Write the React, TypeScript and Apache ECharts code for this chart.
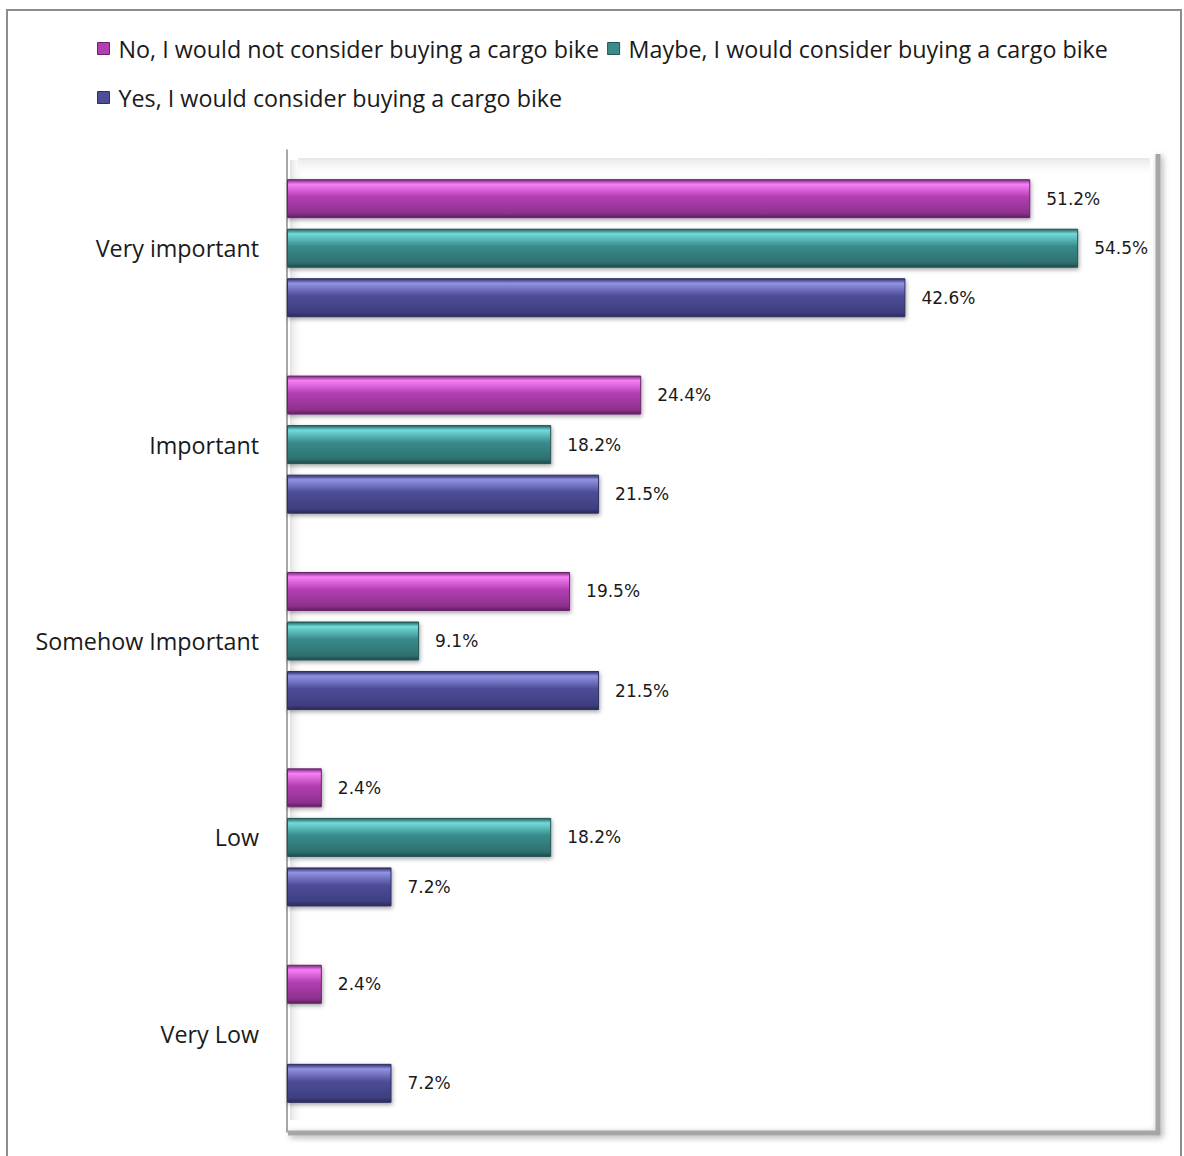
import React, { useEffect, useRef } from "react";
import * as echarts from "echarts";

const categories = ["Very important", "Important", "Somehow Important", "Low", "Very Low"];
const seriesNames = [
  "No, I would not consider buying a cargo bike",
  "Maybe, I would consider buying a cargo bike",
  "Yes, I would consider buying a cargo bike",
];
const noValues = [51.2, 24.4, 19.5, 2.4, 2.4];
const maybeValues: (number | string)[] = [54.5, 18.2, 9.1, 18.2, "-"];
const yesValues = [42.6, 21.5, 21.5, 7.2, 7.2];

const FONT = "Open Sans";
const LABEL_FONT = "DejaVu Sans";

function grad(top: string, hi: string, mid: string, low: string, bottom: string) {
  return new echarts.graphic.LinearGradient(0, 0, 0, 1, [
    { offset: 0, color: top },
    { offset: 0.12, color: hi },
    { offset: 0.45, color: mid },
    { offset: 0.88, color: low },
    { offset: 1, color: bottom },
  ]);
}

export default function App() {
  const ref = useRef<HTMLDivElement>(null);
  useEffect(() => {
    if (!ref.current) return;
    const chart = echarts.init(ref.current, undefined, { renderer: "svg" });
    const colors = [
      { g: grad("#7a2a7a", "#f77ff7", "#b23fb2", "#8e318e", "#5e1f5e"), border: "#6a246a", solid: "#b23fb2" },
      { g: grad("#235e5e", "#72dada", "#3a8b8b", "#2e7070", "#1e4a4a"), border: "#245454", solid: "#3a8b8b" },
      { g: grad("#2e2e66", "#9292e4", "#4d4d98", "#3e3e80", "#2a2a5a"), border: "#2f2f66", solid: "#4d4d98" },
    ];
    const dataSets = [noValues, maybeValues, yesValues];
    const series = seriesNames.map((name, i) => ({
      name,
      type: "bar",
      data: dataSets[i],
      barWidth: 39,
      barGap: "27%",
      z: 3,
      itemStyle: {
        color: colors[i].g,
        borderColor: colors[i].border,
        borderWidth: 1,
        shadowBlur: 4,
        shadowColor: "rgba(0,0,0,0.35)",
        shadowOffsetX: 1,
        shadowOffsetY: 2,
      },
      label: {
        show: true,
        position: "right",
        distance: 16,
        fontFamily: LABEL_FONT,
        fontSize: 17,
        color: "#1a1a1a",
        formatter: (p: any) => Number(p.value).toFixed(1) + "%",
      },
    }));

    chart.setOption({
      animation: false,
      backgroundColor: "#ffffff",
      legend: {
        left: 92,
        top: 23,
        width: 1050,
        itemGap: 8,
        itemWidth: 12,
        itemHeight: 12,
        icon: "rect",
        textStyle: { fontFamily: FONT, fontSize: 23.3, color: "#1a1a1a", lineHeight: 41, padding: [0, 0, 0, 4] },
        data: seriesNames.map((n, i) => ({
          name: n,
          itemStyle: { color: colors[i].solid, borderColor: colors[i].border, borderWidth: 1 },
        })),
      },
      grid: { left: 287, top: 150, width: 871, height: 982, containLabel: false, outerBoundsMode: "none" },
      xAxis: {
        type: "value",
        min: 0,
        max: 60,
        show: false,
        splitLine: { show: false },
      },
      yAxis: {
        type: "category",
        data: categories,
        inverse: true,
        axisLine: { show: true, lineStyle: { color: "#8a8a8a", width: 1.5 } },
        axisTick: { show: false },
        axisLabel: { margin: 28, fontFamily: FONT, fontSize: 23.3, color: "#1a1a1a" },
      },
      graphic: [
        {
          type: "rect",
          z: -10,
          shape: { x: 7, y: 10, width: 1174, height: 1160 },
          style: { fill: "#ffffff", stroke: "#8c8c8c", lineWidth: 2 },
        },
        {
          type: "rect",
          z: -9,
          shape: { x: 298, y: 158, width: 852, height: 20 },
          style: {
            fill: new echarts.graphic.LinearGradient(0, 0, 0, 1, [
              { offset: 0, color: "#e6e6e6" },
              { offset: 1, color: "rgba(255,255,255,0)" },
            ]),
          },
        },
        {
          type: "rect",
          z: -9,
          shape: { x: 290, y: 160, width: 14, height: 960 },
          style: {
            fill: new echarts.graphic.LinearGradient(0, 0, 1, 0, [
              { offset: 0, color: "#e2e2e2" },
              { offset: 1, color: "rgba(255,255,255,0)" },
            ]),
          },
        },
        {
          type: "polyline",
          z: -8,
          shape: { points: [[288, 1133], [1158, 1133], [1158, 154]] },
          style: {
            stroke: "#a6a6a6",
            lineWidth: 5,
            fill: null,
            shadowBlur: 6,
            shadowColor: "rgba(0,0,0,0.35)",
            shadowOffsetX: 2,
            shadowOffsetY: 2,
          },
        },
      ],
      series,
    });
    return () => chart.dispose();
  }, []);
  return <div ref={ref} style={{ position: "fixed", left: 0, top: 0, width: 1184, height: 1156 }} />;
}
